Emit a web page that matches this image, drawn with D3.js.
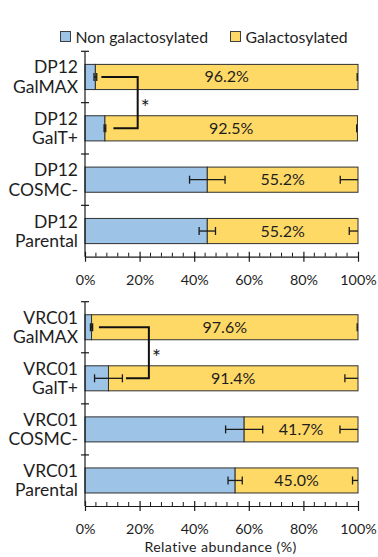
<!DOCTYPE html>
<html><head><meta charset="utf-8">
<script src="https://cdn.jsdelivr.net/npm/d3@7"></script>
<style>body{margin:0;background:#fff}svg{display:block}text{font-family:Lato,"Open Sans",sans-serif;fill:#1e1e1e}</style>
</head><body><svg id="c" width="378" height="557"></svg>
<script>
const groups = ["DP12", "VRC01"];
const conditions = ["GalMAX", "GalT+", "COSMC-", "Parental"];
const seriesNames = ["Non galactosylated", "Galactosylated"];
const dp12NonGal = [3.8, 7.3, 44.8, 44.8];
const dp12Gal = [96.2, 92.5, 55.2, 55.2];
const dp12NonGalErr = [0.5, 0.3, 6.5, 3.0];
const dp12GalErr = [0.3, 0.3, 6.5, 3.2];
const vrc01NonGal = [2.4, 8.6, 58.3, 55.0];
const vrc01Gal = [97.6, 91.4, 41.7, 45.0];
const vrc01NonGalErr = [0.4, 5.1, 6.8, 2.6];
const vrc01GalErr = [0.3, 4.8, 6.6, 2.0];
const xTicks = [0, 20, 40, 60, 80, 100];
const xLabel = "Relative abundance (%)";
// significance brackets: [start x, vertical x, end x] in % units, between GalMAX and GalT+
const bracketDP12 = [6.0, 19.3, 10.4];
const bracketVRC01 = [5.1, 23.4, 15.0];

const colors = ["#9DC3E6", "#FFD966"];
const svg = d3.select("#c");
const x = d3.scaleLinear().domain([0, 100]).range([85, 358]);

const panels = [
  {group: groups[0], non: dp12NonGal, gal: dp12Gal, nErr: dp12NonGalErr, gErr: dp12GalErr, top: 51.3, bottom: 256.7, br: bracketDP12},
  {group: groups[1], non: vrc01NonGal, gal: vrc01Gal, nErr: vrc01NonGalErr, gErr: vrc01GalErr, top: 301.7, bottom: 506, br: bracketVRC01}
];

// legend
const lg = svg.append("g");
[[60, 0], [230, 1]].forEach(([lx, i]) => {
  lg.append("rect").attr("x", lx + 0.5).attr("y", 31.5).attr("width", 10).attr("height", 10)
    .attr("fill", colors[i]).attr("stroke", "#404040").attr("stroke-width", 1);
  lg.append("text").attr("x", lx + 15.5).attr("y", 42.5).attr("font-size", 15.8).text(seriesNames[i]);
});

panels.forEach(p => {
  const g = svg.append("g");
  const y = d3.scaleBand().domain(conditions).range([p.top, p.bottom]).paddingInner(0.51).paddingOuter(0.255);
  const step = y.step();
  // bars
  conditions.forEach((c, i) => {
    g.append("rect").attr("x", x(0)).attr("y", y(c)).attr("width", x(p.non[i]) - x(0)).attr("height", y.bandwidth())
      .attr("fill", colors[0]).attr("stroke", "#303030").attr("stroke-width", 1);
    g.append("rect").attr("x", x(p.non[i])).attr("y", y(c)).attr("width", x(p.non[i] + p.gal[i]) - x(p.non[i])).attr("height", y.bandwidth())
      .attr("fill", colors[1]).attr("stroke", "#303030").attr("stroke-width", 1);
    const cy = y(c) + y.bandwidth() / 2;
    // error bars non-gal
    const e1 = p.non[i] - p.nErr[i], e2 = p.non[i] + p.nErr[i];
    g.append("line").attr("x1", x(e1)).attr("x2", x(e2)).attr("y1", cy).attr("y2", cy).attr("stroke", "#1a1a1a").attr("stroke-width", 1.3);
    [e1, e2].forEach(v => g.append("line").attr("x1", x(v)).attr("x2", x(v)).attr("y1", cy - 4).attr("y2", cy + 4).attr("stroke", "#1a1a1a").attr("stroke-width", 1.3));
    // error bar gal (minus side)
    const tot = p.non[i] + p.gal[i];
    const e3 = tot - p.gErr[i];
    g.append("line").attr("x1", x(e3)).attr("x2", x(tot)).attr("y1", cy).attr("y2", cy).attr("stroke", "#1a1a1a").attr("stroke-width", 1.3);
    g.append("line").attr("x1", x(e3)).attr("x2", x(e3)).attr("y1", cy - 4).attr("y2", cy + 4).attr("stroke", "#1a1a1a").attr("stroke-width", 1.3);
    // value label
    g.append("text").attr("x", x(p.non[i] + p.gal[i] / 2)).attr("y", cy + 5.5).attr("text-anchor", "middle")
      .attr("font-size", 16).text(p.gal[i].toFixed(1) + "%");
    // category label
    const t = g.append("text").attr("x", 78).attr("text-anchor", "end").attr("font-size", 17.5);
    t.append("tspan").attr("x", 78).attr("y", cy - 3.5).text(p.group);
    t.append("tspan").attr("x", 78).attr("y", cy + 16).text(c);
  });
  // y axis
  g.append("line").attr("x1", x(0)).attr("x2", x(0)).attr("y1", p.top).attr("y2", p.bottom).attr("stroke", "#1a1a1a").attr("stroke-width", 1.2);
  d3.range(conditions.length).forEach(i => {
    const ty = p.top + i * step;
    g.append("line").attr("x1", x(0) - 4).attr("x2", x(0) + 4).attr("y1", ty).attr("y2", ty).attr("stroke", "#1a1a1a").attr("stroke-width", 1.2);
  });
  // x axis
  const ax = g.append("g").attr("transform", `translate(0,${p.bottom})`)
    .call(d3.axisBottom(x).tickValues(xTicks).tickFormat(d => d + "%").tickSize(5).tickSizeOuter(0).tickPadding(13));
  ax.select(".domain").attr("stroke", "#1a1a1a").attr("stroke-width", 1.2);
  ax.selectAll(".tick line").attr("stroke", "#1a1a1a").attr("stroke-width", 1.2).attr("y1", -5);
  ax.selectAll(".tick text").attr("font-size", 14.3).attr("font-family", "Lato").attr("fill", "#1e1e1e");
  d3.range(0, 101, 4).filter(v => v % 20 !== 0).forEach(v => {
    g.append("line").attr("x1", x(v)).attr("x2", x(v)).attr("y1", p.bottom - 4).attr("y2", p.bottom).attr("stroke", "#1a1a1a").attr("stroke-width", 1);
  });
  // significance bracket
  const y0 = y(conditions[0]) + y.bandwidth() / 2, y1 = y(conditions[1]) + y.bandwidth() / 2;
  g.append("path").attr("d", `M${x(p.br[0])},${y0}H${x(p.br[1])}V${y1}H${x(p.br[2])}`)
    .attr("fill", "none").attr("stroke", "#111").attr("stroke-width", 2);
  g.append("text").attr("x", x(p.br[1]) + 7.5).attr("y", (y0 + y1) / 2 + 12).attr("text-anchor", "middle")
    .attr("font-size", 21).text("*");
});

svg.append("text").attr("x", (x(0) + x(100)) / 2 - 1).attr("y", 552).attr("text-anchor", "middle").attr("font-size", 14.2)
  .attr("letter-spacing", 0.4).text(xLabel);
</script></body></html>
